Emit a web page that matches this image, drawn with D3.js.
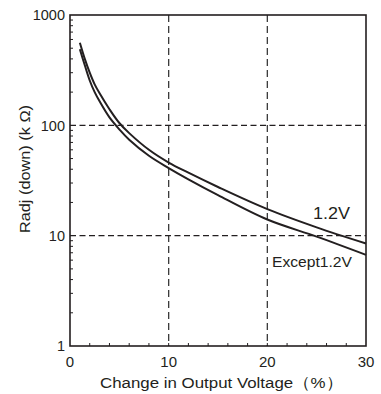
<!DOCTYPE html>
<html><head><meta charset="utf-8">
<script src="https://cdn.jsdelivr.net/npm/d3@7"></script>
<style>body{margin:0;background:#fff}svg{display:block}text{font-family:"Liberation Sans",Arial,sans-serif;fill:#231f20}</style>
</head><body>
<script>
const xVals = [1, 1.5, 2, 2.5, 3, 4, 5, 6, 8, 10, 12, 15, 20, 25, 30];
const v12 = [560, 400, 300, 235, 195, 140, 105, 85, 60, 46, 37.2, 27.6, 17.4, 11.9, 8.5];
const vExcept = [490, 350, 255, 200, 165, 118, 92, 74, 53, 41, 32.4, 23.3, 14, 9.8, 6.7];
const xTickLabels = [0, 10, 20, 30];
const yTickLabels = [1, 10, 100, 1000];
const seriesNames = ["1.2V", "Except1.2V"];

const W = 381, H = 394;
const svg = d3.select("body").append("svg").attr("width", W).attr("height", H);
const x = d3.scaleLinear().domain([0, 30]).range([70, 366]);
const y = d3.scaleLog().domain([1, 1000]).range([346, 15]);
const ink = "#231f20";

// grid
svg.append("g").selectAll("line").data([10, 20]).join("line")
  .attr("x1", d => x(d)).attr("x2", d => x(d)).attr("y1", y(1000)).attr("y2", y(1))
  .attr("stroke", "#3a3a3a").attr("stroke-width", 1.3).attr("stroke-dasharray", "7,4");
svg.append("g").selectAll("line").data([10, 100]).join("line")
  .attr("y1", d => y(d)).attr("y2", d => y(d)).attr("x1", x(0)).attr("x2", x(30))
  .attr("stroke", ink).attr("stroke-width", 1.3).attr("stroke-dasharray", "6,3.5");

// minor ticks y
const yMinor = [];
[1, 10, 100].forEach(dec => { for (let k = 2; k <= 9; k++) yMinor.push(dec * k); });
svg.append("g").selectAll("line").data(yMinor).join("line")
  .attr("x1", x(0)).attr("x2", x(0) + 3).attr("y1", d => y(d)).attr("y2", d => y(d))
  .attr("stroke", ink).attr("stroke-width", 1);
// minor ticks x
svg.append("g").selectAll("line").data(d3.range(2, 30, 2)).join("line")
  .attr("x1", d => x(d)).attr("x2", d => x(d)).attr("y1", y(1)).attr("y2", y(1) - 3)
  .attr("stroke", ink).attr("stroke-width", 1);

// frame
svg.append("rect").attr("x", x(0)).attr("y", y(1000)).attr("width", x(30) - x(0)).attr("height", y(1) - y(1000))
  .attr("fill", "none").attr("stroke", ink).attr("stroke-width", 1.6);

// curves
const line = d3.line().x(d => x(d[0])).y(d => y(d[1])).curve(d3.curveCatmullRom.alpha(0.5));
[v12, vExcept].forEach(vals => {
  svg.append("path").datum(xVals.map((xv, i) => [xv, vals[i]])).attr("d", line)
    .attr("fill", "none").attr("stroke", ink).attr("stroke-width", 2);
});

// tick labels
svg.append("g").selectAll("text").data(yTickLabels).join("text")
  .attr("x", x(0) - 5).attr("y", d => y(d)).attr("dy", "0.36em").attr("text-anchor", "end")
  .attr("font-size", 14.5).text(d => d);
svg.append("g").selectAll("text").data(xTickLabels).join("text")
  .attr("x", d => x(d)).attr("y", 367).attr("text-anchor", "middle")
  .attr("font-size", 15).text(d => d);

// axis titles
svg.append("text").attr("x", 221.5).attr("y", 388).attr("text-anchor", "middle")
  .attr("font-size", 15.5).attr("textLength", 243).attr("lengthAdjust", "spacingAndGlyphs")
  .text("Change in Output Voltage（%）");
svg.append("text").attr("transform", "translate(30,169) rotate(-90)").attr("text-anchor", "middle")
  .attr("font-size", 15.5).attr("textLength", 128).attr("lengthAdjust", "spacingAndGlyphs")
  .text("Radj (down) (k Ω)");

// series labels
svg.append("text").attr("x", 350).attr("y", 219).attr("text-anchor", "end").attr("font-size", 16)
  .attr("textLength", 37).attr("lengthAdjust", "spacingAndGlyphs").text(seriesNames[0]);
svg.append("text").attr("x", 352).attr("y", 267).attr("text-anchor", "end").attr("font-size", 15)
  .attr("textLength", 80).attr("lengthAdjust", "spacingAndGlyphs").text(seriesNames[1]);
</script>
</body></html>
